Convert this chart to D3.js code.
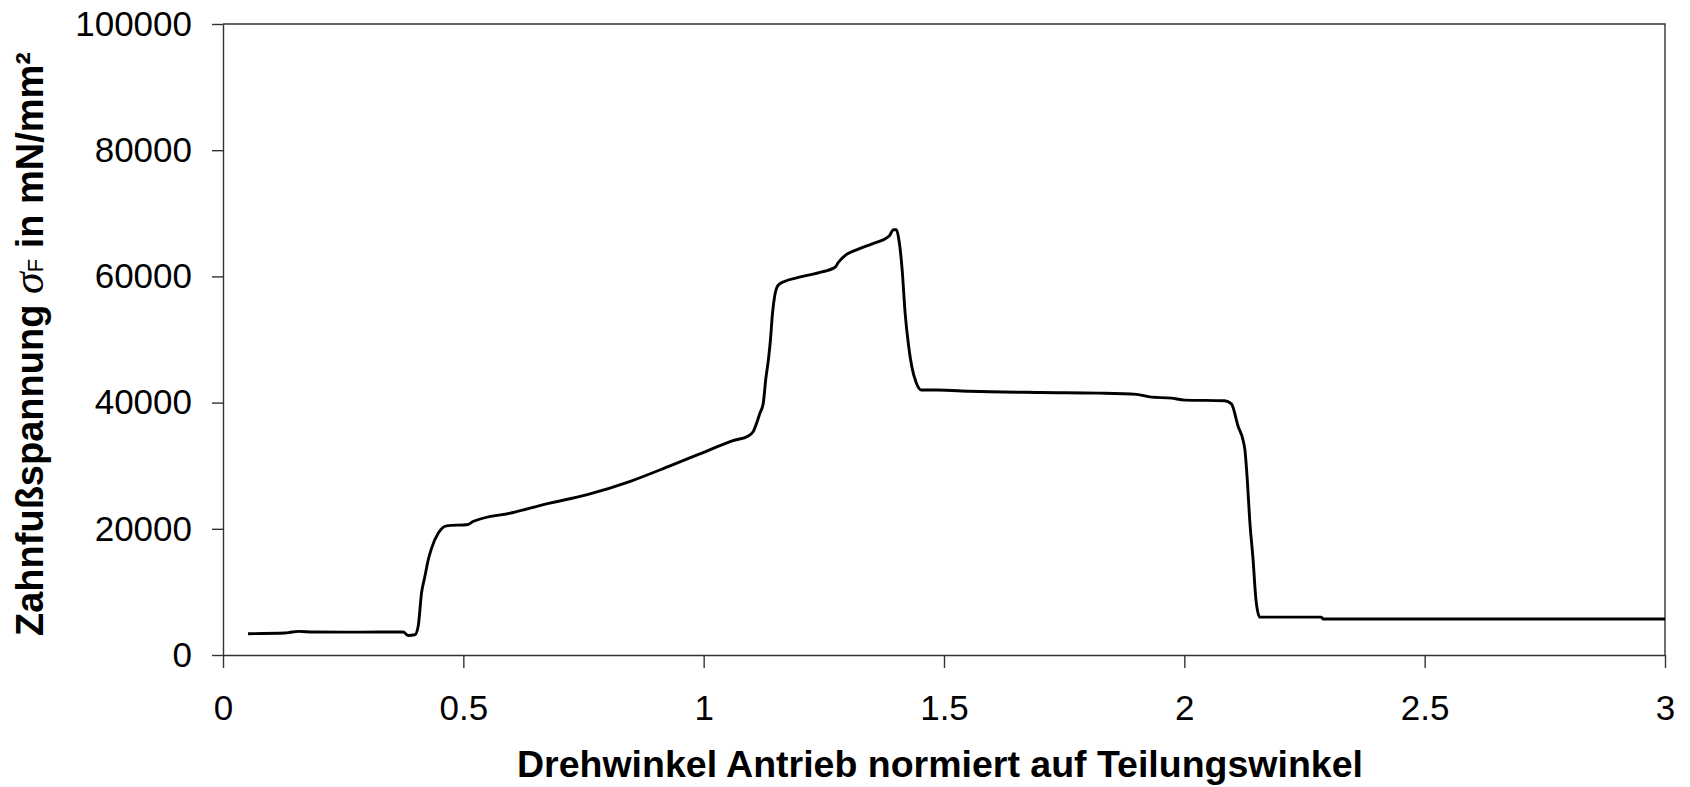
<!DOCTYPE html>
<html>
<head>
<meta charset="utf-8">
<script src="https://cdn.jsdelivr.net/npm/d3@7"></script>
<style>
  body { margin: 0; background: #fff; }
  svg { display: block; }
</style>
</head>
<body>
<div id="chart"></div>
<script>
// Drehwinkel (normiert) and Zahnfußspannung values
const angle = [0.052, 0.129, 0.140, 0.157, 0.188, 0.250, 0.327, 0.375, 0.385, 0.399,
  0.406, 0.413, 0.420, 0.427, 0.434, 0.448, 0.465, 0.510, 0.520, 0.604,
  0.673, 0.756, 0.846, 0.930, 0.992, 1.061, 1.093, 1.103, 1.117, 1.124,
  1.129, 1.135, 1.139, 1.143, 1.148, 1.155, 1.168, 1.195, 1.240, 1.274,
  1.280, 1.294, 1.318, 1.352, 1.386, 1.395, 1.401, 1.406, 1.413, 1.419,
  1.426, 1.433, 1.442, 1.453, 1.487, 1.554, 1.700, 1.824, 1.901, 1.928,
  1.973, 2.001, 2.084, 2.098, 2.112, 2.122, 2.126, 2.131, 2.136, 2.143,
  2.149, 2.157, 2.285, 2.289, 3.0];
const stress = [3370, 3480, 3600, 3740, 3640, 3620, 3640, 3640, 3100, 3210,
  4530, 9810, 12450, 15090, 16940, 19320, 20470, 20680, 21150, 22580,
  23950, 25380, 27490, 29970, 31870, 33980, 34720, 35400, 38310, 39900,
  43590, 47000, 50000, 54000, 57000, 58600, 59200, 59800, 60600, 61500,
  62200, 63300, 64200, 65200, 66400, 67400, 67400, 65900, 61000, 54300,
  49200, 45700, 43200, 42000, 42000, 41800, 41600, 41500, 41300, 40900,
  40700, 40400, 40300, 39800, 36200, 34100, 32500, 27750, 21400, 15100,
  8760, 6000, 6000, 5700, 5700];

const xTicks = [0, 0.5, 1, 1.5, 2, 2.5, 3];
const yTicks = [0, 20000, 40000, 60000, 80000, 100000];

const xTitle = "Drehwinkel Antrieb normiert auf Teilungswinkel";

const data = angle.map((a, i) => ({ x: a, y: stress[i] }));

const width = 1690, height = 787;
const margin = { top: 24, right: 25, bottom: 132, left: 223 };

const svg = d3.select("#chart").append("svg")
    .attr("width", width)
    .attr("height", height);

const x = d3.scaleLinear()
    .domain([0, 3])
    .range([margin.left, width - margin.right]);

const y = d3.scaleLinear()
    .domain([0, 100000])
    .range([height - margin.bottom, margin.top]);

const axisColor = "#333";

// plot area border (top and right)
svg.append("path")
    .attr("fill", "none")
    .attr("stroke", axisColor)
    .attr("stroke-width", 1.4)
    .attr("d", `M${x(0)},${y(100000)}H${x(3)}V${y(0)}`);

// x axis
const gx = svg.append("g")
    .attr("transform", `translate(0,${y(0)})`)
    .call(d3.axisBottom(x).tickValues(xTicks).tickFormat(d3.format("")).tickSize(13).tickPadding(27).tickSizeOuter(0));

// y axis
const gy = svg.append("g")
    .attr("transform", `translate(${x(0)},0)`)
    .call(d3.axisLeft(y).tickValues(yTicks).tickFormat(d3.format("d")).tickSize(11).tickPadding(20).tickSizeOuter(0));

[gx, gy].forEach(g => {
  g.select(".domain").attr("stroke", axisColor).attr("stroke-width", 1.4);
  g.selectAll(".tick line").attr("stroke", axisColor).attr("stroke-width", 1.4);
  g.selectAll(".tick text")
      .attr("fill", "#000")
      .style("font-family", "'Liberation Sans', Arial, sans-serif")
      .style("font-size", "35px");
});

// the curve
svg.append("path")
    .datum(data)
    .attr("fill", "none")
    .attr("stroke", "#000")
    .attr("stroke-width", 2.9)
    .attr("stroke-linejoin", "round")
    .attr("d", d3.line()
        .x(d => x(d.x))
        .y(d => y(d.y))
        .curve(d3.curveMonotoneX));

// x axis title
svg.append("text")
    .attr("x", 940)
    .attr("y", 777)
    .attr("text-anchor", "middle")
    .style("font-family", "'Liberation Sans', Arial, sans-serif")
    .style("font-weight", "bold")
    .style("font-size", "37.5px")
    .text(xTitle);

// y axis title
const yt = svg.append("text")
    .attr("transform", `translate(43,344) rotate(-90)`)
    .attr("text-anchor", "middle")
    .style("font-family", "'Liberation Sans', Arial, sans-serif")
    .style("font-weight", "bold")
    .style("font-size", "38px");
yt.append("tspan").text("Zahnfußspannung ");
yt.append("tspan")
    .style("font-family", "'Liberation Serif', serif")
    .style("font-style", "italic")
    .style("font-weight", "normal")
    .style("font-size", "44px")
    .text("σ");
yt.append("tspan")
    .style("font-weight", "normal")
    .style("font-size", "22px")
    .text("F");
yt.append("tspan").text(" in mN/mm²");
</script>
</body>
</html>
